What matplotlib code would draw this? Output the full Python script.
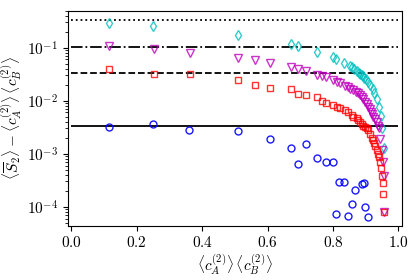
import math
import matplotlib
matplotlib.use("Agg")
import matplotlib.pyplot as plt
from matplotlib.ticker import FuncFormatter, LogLocator

plt.rcParams['mathtext.fontset'] = 'cm'
plt.rcParams['font.family'] = 'serif'
plt.rcParams['font.serif'] = ['DejaVu Serif']

# reference levels (horizontal lines)
ref_levels = [0.33, 0.105, 0.034, 0.0034]
ref_styles = [':', '-.', '--', '-']

# cyan diamonds
cyan_x = [0.114, 0.251, 0.511, 0.670, 0.694, 0.751, 0.800, 0.809, 0.833, 0.852, 0.858,
          0.864, 0.872, 0.878, 0.882, 0.888, 0.891, 0.896, 0.900, 0.906, 0.913, 0.921,
          0.925, 0.933, 0.940, 0.948, 0.951, 0.955]
cyan_y = [0.288, 0.252, 0.170, 0.116, 0.106, 0.082, 0.066, 0.060, 0.051, 0.046, 0.0427,
          0.0396, 0.0358, 0.034, 0.0323, 0.030, 0.0292, 0.027, 0.0257, 0.0225, 0.0195, 0.0164,
          0.0138, 0.0106, 0.0077, 0.0052, 0.0030, 0.0013]

# magenta triangles
mag_x = [0.114, 0.253, 0.362, 0.511, 0.563, 0.606, 0.670, 0.694, 0.717, 0.751, 0.765,
         0.779, 0.800, 0.813, 0.821, 0.837, 0.845, 0.852, 0.862, 0.870, 0.877, 0.883,
         0.888, 0.893, 0.898, 0.903, 0.908, 0.912, 0.915, 0.919, 0.923, 0.928, 0.933,
         0.937, 0.940, 0.945, 0.950, 0.953, 0.955, 0.956]
mag_y = [0.109, 0.096, 0.080, 0.063, 0.059, 0.052, 0.0438, 0.040, 0.0368, 0.031, 0.029,
         0.0277, 0.0249, 0.0225, 0.0213, 0.0192, 0.0178, 0.0168, 0.0159, 0.0148, 0.0138, 0.0128,
         0.0119, 0.0107, 0.0096, 0.0086, 0.0077, 0.0069, 0.0062, 0.0056, 0.0050, 0.0045, 0.0040,
         0.0034, 0.0030, 0.00186, 0.00117, 0.00071, 0.00038, 8.1e-5]

# red squares
red_x = [0.114, 0.253, 0.362, 0.511, 0.563, 0.606, 0.670, 0.694, 0.717, 0.751, 0.765,
         0.779, 0.800, 0.813, 0.821, 0.837, 0.845, 0.857, 0.862, 0.872, 0.877, 0.883,
         0.888, 0.893, 0.898, 0.903, 0.908, 0.913, 0.918, 0.922, 0.925, 0.929, 0.933,
         0.937, 0.940, 0.945, 0.948, 0.951, 0.953, 0.953, 0.956]
red_y = [0.0396, 0.0315, 0.0319, 0.0243, 0.0195, 0.0174, 0.0164, 0.0132, 0.0126, 0.0117, 0.0099,
         0.0091, 0.0084, 0.0077, 0.0072, 0.0066, 0.0060, 0.0054, 0.0050, 0.0047, 0.0044, 0.0040,
         0.0037, 0.0034, 0.0032, 0.0030, 0.0028, 0.0024, 0.00195, 0.0018, 0.0016, 0.0014, 0.00118,
         0.0010, 0.00087, 0.00071, 0.00053, 0.00038, 0.00028, 0.000173, 7.9e-5]

# blue circles
blue_x = [0.114, 0.251, 0.361, 0.511, 0.606, 0.670, 0.694, 0.717, 0.751, 0.778, 0.800,
          0.809, 0.817, 0.834, 0.846, 0.857, 0.866, 0.889, 0.895, 0.899, 0.908]
blue_y = [3.2e-3, 3.7e-3, 2.8e-3, 2.7e-3, 1.9e-3, 1.26e-3, 6.5e-4, 1.52e-3, 8.4e-4, 7.1e-4, 7.1e-4,
          7.2e-5, 2.9e-4, 2.9e-4, 6.8e-5, 1.11e-4, 2.07e-4, 2.64e-4, 2.84e-4, 9.9e-5, 6.5e-5]

fig = plt.figure(figsize=(4.15, 2.8), dpi=100)
ax = fig.add_axes([0.164, 0.194, 0.804, 0.768])

for lev, ls in zip(ref_levels, ref_styles):
    ax.hlines(lev, 0.0, 1.0, colors='k', linestyles=ls, linewidth=1.3, zorder=1)

ax.plot(cyan_x, cyan_y, 'd', mfc='none', mec='c', ms=5.2, mew=1.0, alpha=0.8, zorder=2)
ax.plot(mag_x, mag_y, 'v', mfc='none', mec='m', ms=5.2, mew=1.0, alpha=0.8, zorder=2)
ax.plot(red_x, red_y, 's', mfc='none', mec='r', ms=5.0, mew=1.0, alpha=0.8, zorder=2)
ax.plot(blue_x, blue_y, 'o', mfc='none', mec='b', ms=5.0, mew=1.0, alpha=0.9, zorder=2)

ax.set_yscale('log')
ax.set_xlim(-0.01, 1.01)
ax.set_ylim(4.4e-5, 0.5)
ax.set_xticks([0.0, 0.2, 0.4, 0.6, 0.8, 1.0])
ax.xaxis.set_major_formatter(FuncFormatter(lambda v, p: r'$%.1f$' % v))
ax.yaxis.set_major_locator(LogLocator(base=10, numticks=10))
ax.yaxis.set_major_formatter(FuncFormatter(lambda v, p: r'$10^{%d}$' % round(math.log10(v))))
ax.tick_params(labelsize=11)

ax.set_xlabel(r'$\langle c_A^{(2)} \rangle \, \langle c_B^{(2)} \rangle$', fontsize=11, labelpad=1)
ax.set_ylabel(r'$\langle \overline{S}_2 \rangle - \langle c_A^{(2)} \rangle \, \langle c_B^{(2)} \rangle$',
              fontsize=11, labelpad=2)

fig.savefig('out.png', dpi=100)
